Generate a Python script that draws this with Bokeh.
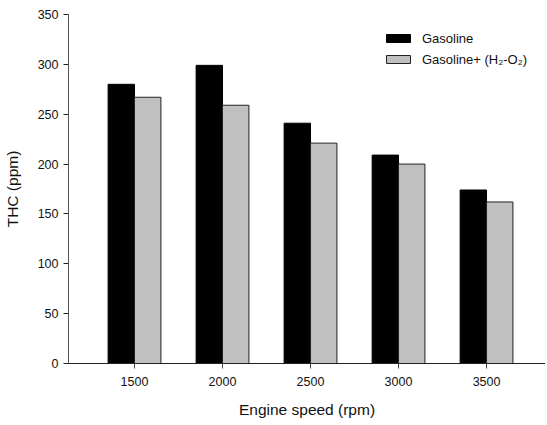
import numpy as np
from bokeh.plotting import figure
from bokeh.models import ColumnDataSource, FixedTicker, Legend, LegendItem, Range1d
from bokeh.embed import file_html
from bokeh.resources import INLINE

speeds = ["1500", "2000", "2500", "3000", "3500"]
gasoline = [280, 299, 241, 209, 174]
gasoline_h2o2 = [267, 259, 221, 200, 162]
y_ticks = [0, 50, 100, 150, 200, 250, 300, 350]

pos = np.arange(len(speeds)) + 1
bar_w = 0.3

src1 = ColumnDataSource(dict(x=pos - bar_w / 2, top=gasoline))
src2 = ColumnDataSource(dict(x=pos + bar_w / 2, top=gasoline_h2o2))

FONT = "Liberation Sans"

p = figure(width=545, height=423, output_backend="svg", toolbar_location=None,
           x_range=Range1d(0.25, 5.67), y_range=Range1d(0, 350),
           min_border_left=68, min_border_right=0, min_border_top=14, min_border_bottom=60)
p.outline_line_color = None
p.xgrid.grid_line_color = None
p.ygrid.grid_line_color = None

r1 = p.vbar(x="x", top="top", width=bar_w, bottom=0, source=src1,
            fill_color="black", line_color="black", line_width=1)
r2 = p.vbar(x="x", top="top", width=bar_w, bottom=0, source=src2,
            fill_color="#c0c0c0", line_color="#222222", line_width=1)

for ax in (p.xaxis[0], p.yaxis[0]):
    ax.major_tick_out = 5
    ax.major_tick_in = 0
    ax.minor_tick_line_color = None
    ax.major_label_text_font = FONT
    ax.major_label_text_font_size = "12.5px"
    ax.major_label_text_color = "#111111"
    ax.axis_label_text_font = FONT
    ax.axis_label_text_font_size = "15.5px"
    ax.axis_label_text_font_style = "normal"
    ax.axis_label_text_color = "#111111"

p.xaxis.axis_line_color = "#222222"
p.xaxis.major_tick_line_color = "#444444"
p.yaxis.axis_line_color = "#555555"
p.yaxis.major_tick_line_color = "#222222"

p.xaxis.ticker = FixedTicker(ticks=list(pos))
p.xaxis.major_label_overrides = {int(i): s for i, s in zip(pos, speeds)}
p.xaxis.axis_label = "Engine speed (rpm)"
p.xaxis.major_label_standoff = 8
p.xaxis.axis_label_standoff = 12

p.yaxis.ticker = FixedTicker(ticks=y_ticks)
p.yaxis.axis_label = "THC (ppm)"
p.yaxis.major_label_standoff = 5
p.yaxis.axis_label_standoff = 14

legend = Legend(items=[LegendItem(label="Gasoline", renderers=[r1]),
                       LegendItem(label="Gasoline+ (H\u2082-O\u2082)", renderers=[r2])],
                location=(315, 296), orientation="vertical",
                glyph_width=30, glyph_height=10, label_height=16,
                spacing=5, padding=0, margin=0,
                label_text_font=FONT, label_text_font_size="13px",
                label_text_color="#111111", label_standoff=9,
                border_line_color=None, background_fill_alpha=0)
p.add_layout(legend, "center")

open("out.html", "w").write(file_html(p, INLINE))
